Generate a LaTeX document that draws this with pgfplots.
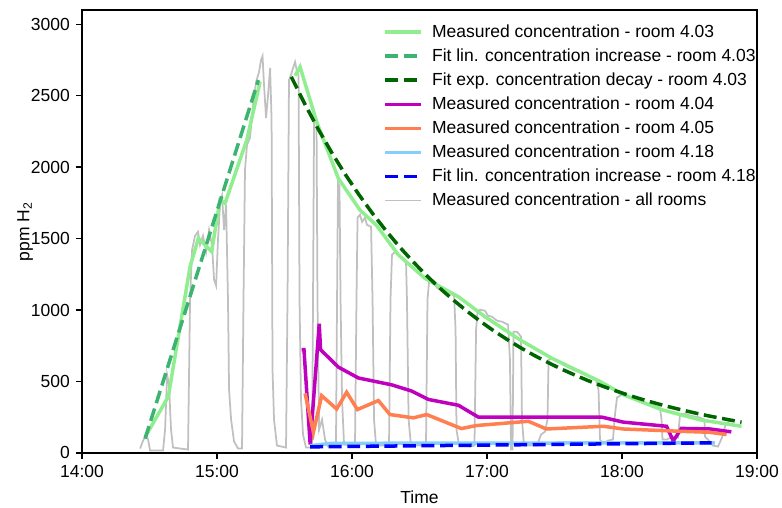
\documentclass[border=0pt]{standalone}
\usepackage{fontspec}
\setmainfont{Liberation Sans}
\usepackage{pgfplots}
\pgfplotsset{compat=1.18}
\definecolor{lgreen}{HTML}{90EE90}
\definecolor{sgreen}{HTML}{3CB371}
\definecolor{dgreen}{HTML}{006400}
\definecolor{magent}{HTML}{BF00BF}
\definecolor{coral}{HTML}{FF7F50}
\definecolor{skyblue}{HTML}{87CEFA}
\definecolor{silver}{HTML}{C0C0C0}
\newcommand{\fs}{\fontsize{10}{12}\selectfont}

\begin{document}
\begin{tikzpicture}
\begin{axis}[
    scale only axis,
    width=385.7pt, height=253.1pt,
    xmin=14, xmax=19, ymin=0, ymax=3100,
    xtick={14,15,16,17,18,19},
    xticklabels={14:00,15:00,16:00,17:00,18:00,19:00},
    ytick={0,500,1000,1500,2000,2500,3000},
    /pgf/number format/1000 sep={},
    /pgf/number format/assume math mode=true,
    tick label style={font=\fs},
    label style={font=\fs},
    tick align=outside, major tick length=3.5pt,
    xtick pos=bottom, ytick pos=left,
    axis line style={line width=0.8pt},
    tick style={black, line width=0.8pt},
    xlabel={Time}, ylabel={ppm H\textsubscript{2}},
    xlabel style={at={(axis description cs:0.5,-0.0993)}, anchor=center},
    ylabel style={at={(axis description cs:-0.0844,0.5)}, anchor=center},
    legend style={draw=none, fill=none, inner sep=0pt, font=\fs,
        at={(axis description cs:0.446,0.976)}, anchor=north west,
        row sep=1pt, column sep=3.2pt, cells={anchor=west}},
    legend image code/.code={\draw[#1] (0pt,0pt) -- (20.6pt,0pt);},
]
% all rooms (drawn first, behind)
\addplot[silver, line width=1pt, forget plot] coordinates {
(14.430,30) (14.452,86) (14.474,121) (14.489,93) (14.504,16) (14.600,16)
(14.615,163) (14.630,547) (14.644,477) (14.659,163) (14.674,37) (14.785,23)
(14.800,1072) (14.815,1421) (14.837,1519) (14.859,1547) (14.874,1456) (14.896,1519)
(14.919,1407) (14.941,1561) (14.963,1449) (14.978,1211) (14.993,1170) (15.007,1491)
(15.022,1736) (15.037,1799) (15.052,1561) (15.067,1736) (15.081,1072) (15.089,443)
(15.104,233) (15.126,79) (15.156,30) (15.185,30) (15.196,1072) (15.207,1981)
(15.222,2156) (15.244,2204) (15.267,2435) (15.289,2596) (15.311,2666) (15.326,2750)
(15.337,2777) (15.348,2575) (15.363,2344) (15.378,2505) (15.393,2694) (15.404,2330)
(15.411,582) (15.422,233) (15.444,51) (15.511,37) (15.522,1072) (15.533,2610)
(15.548,2645) (15.563,2694) (15.578,2736) (15.593,2666) (15.604,2645) (15.611,1072)
(15.622,373) (15.637,128) (15.659,37) (15.704,37) (15.711,1072) (15.719,2344)
(15.737,2309) (15.744,1072) (15.756,163) (15.778,233) (15.800,93) (15.822,44)
(15.881,44) (15.889,1072) (15.896,1889) (15.907,1868) (15.915,1072) (15.926,373)
(15.941,58) (16.022,51) (16.033,1072) (16.041,1646) (16.059,1667) (16.074,1617)
(16.096,1646) (16.111,1596) (16.141,1582) (16.152,1072) (16.163,233) (16.178,51)
(16.274,51) (16.285,1072) (16.296,1386) (16.319,1407) (16.356,1372) (16.400,1337)
(16.407,1072) (16.419,233) (16.437,51) (16.548,51) (16.559,1072) (16.570,1190)
(16.600,1197) (16.630,1155) (16.667,1141) (16.711,1127) (16.756,1100) (16.767,862)
(16.774,163) (16.793,51) (16.837,72) (16.874,44) (16.907,51) (16.919,862)
(16.930,988) (16.948,1002) (16.985,995) (17.007,960) (17.037,953) (17.074,925)
(17.111,918) (17.156,897) (17.170,652) (17.178,23) (17.189,23) (17.196,848)
(17.222,848) (17.252,813) (17.259,233) (17.274,51) (17.370,51) (17.400,128)
(17.430,149) (17.448,233) (17.456,652) (17.481,659) (17.519,645) (17.563,617)
(17.637,582) (17.726,547) (17.807,512) (17.826,443) (17.837,93) (17.859,65)
(17.896,86) (17.933,93) (17.948,268) (17.963,387) (18.000,408) (18.059,387)
(18.133,359) (18.207,338) (18.281,317) (18.293,233) (18.300,93) (18.333,93)
(18.370,114) (18.415,107) (18.430,268) (18.467,275) (18.504,261) (18.578,247)
(18.611,233) (18.615,114) (18.637,93) (18.674,51) (18.711,44) (18.741,107)
(18.770,205) (18.807,226) (18.830,233)
};
% room 4.03 measured (rise)
\addplot[lgreen, line width=2pt] coordinates {
(14.467,110) (14.639,394) (14.800,1303) (14.862,1502) (14.960,1409)
(15.022,1770) (15.059,1746) (15.220,2189) (15.319,2597)
};
\addlegendentry{Measured concentration - room 4.03}
% room 4.03 measured (decay)
\addplot[lgreen, line width=2pt, forget plot] coordinates {
(15.578,2640) (15.615,2702) (15.738,2318) (15.899,1920) (16.059,1699)
(16.180,1594) (16.343,1386) (16.541,1221) (16.788,1093) (16.985,953)
(17.244,791) (17.479,663) (17.837,500) (18.010,407) (18.294,302)
(18.578,231) (18.886,186)
};
\addplot[sgreen, line width=2pt, dash pattern=on 7.4pt off 3.2pt] coordinates {
(14.467,100) (15.306,2609)
};
\addlegendentry{Fit lin. concentration increase - room 4.03}
\addplot[dgreen, line width=2pt, dash pattern=on 7.4pt off 3.2pt] coordinates {
(15.55,2632) (15.65,2442) (15.75,2265) (15.85,2101) (15.95,1949) (16.05,1809)
(16.15,1678) (16.25,1557) (16.35,1444) (16.45,1340) (16.55,1243) (16.65,1153)
(16.75,1070) (16.85,993) (16.95,921) (17.05,854) (17.15,793) (17.25,735)
(17.35,682) (17.45,633) (17.55,587) (17.65,545) (17.75,505) (17.85,469)
(17.95,435) (18.05,403) (18.15,374) (18.25,347) (18.35,322) (18.45,299)
(18.55,277) (18.65,257) (18.75,239) (18.85,221) (18.886,215)
};
\addlegendentry{Fit exp. concentration decay - room 4.03}
\addplot[magent, line width=2pt] coordinates {
(15.627,722) (15.644,722) (15.690,58) (15.757,903) (15.767,722) (15.899,600)
(16.047,524) (16.294,476) (16.440,433) (16.565,374) (16.788,333) (16.936,250)
(17.850,250) (18.010,215) (18.330,186) (18.380,83) (18.440,171) (18.652,167)
(18.810,147)
};
\addlegendentry{Measured concentration - room 4.04}
\addplot[coral, line width=2pt] coordinates {
(15.652,417) (15.714,144) (15.775,400) (15.886,307) (15.960,424) (16.040,303)
(16.195,366) (16.281,268) (16.454,245) (16.553,268) (16.810,170) (16.920,191)
(17.306,221) (17.440,167) (17.862,186) (18.010,167) (18.430,151) (18.650,144)
(18.775,128)
};
\addlegendentry{Measured concentration - room 4.05}
\addplot[skyblue, line width=2pt] coordinates {
(15.690,50) (15.840,66) (16.500,68) (18.690,70)
};
\addlegendentry{Measured concentration - room 4.18}
\addplot[blue, line width=2pt, dash pattern=on 7.4pt off 3.2pt] coordinates {
(15.690,42) (18.664,70)
};
\addlegendentry{Fit lin. concentration increase - room 4.18}
\addlegendimage{silver, line width=1pt}
\addlegendentry{Measured concentration - all rooms}
\end{axis}
\pgfresetboundingbox
\path ([shift={(-46.9pt,-31.4pt)}]current axis.south west) rectangle ([shift={(14.3pt,5.7pt)}]current axis.north east);
\end{tikzpicture}
\end{document}
